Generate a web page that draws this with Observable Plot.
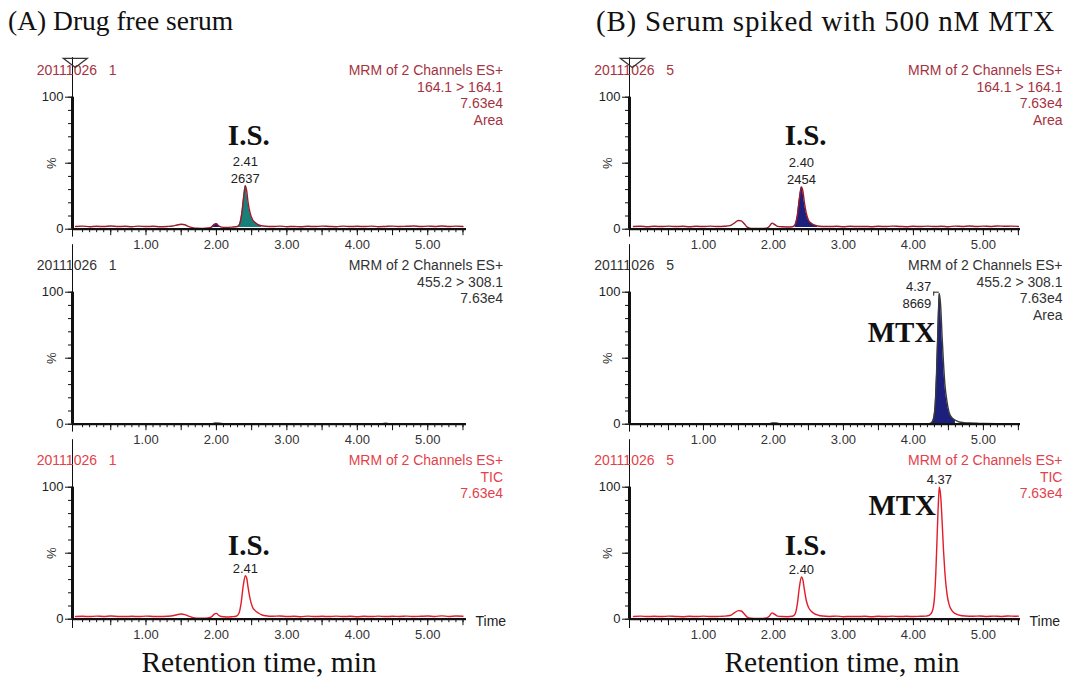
<!DOCTYPE html>
<html><head><meta charset="utf-8">
<script src="https://cdn.jsdelivr.net/npm/d3@7"></script>
<script src="https://cdn.jsdelivr.net/npm/@observablehq/plot@0.6"></script>
<style>
body{margin:0;background:#fff;}
#root{position:relative;width:1071px;height:677px;overflow:hidden;background:#fff;}
.title{position:absolute;font-family:"Liberation Serif","Times New Roman",serif;line-height:1;color:#111;white-space:nowrap;}
.panel{position:absolute;}
</style></head><body><div id="root"></div>
<script>
// ---------------- data ----------------
const columnTitles = ["(A) Drug free serum", "(B) Serum spiked with 500 nM MTX"];
const xAxisTitle = "Retention time, min";
const sampleIds = ["20111026   1", "20111026   5"];
const channelHeaders = [
  ["MRM of 2 Channels ES+\n164.1 > 164.1\n7.63e4\nArea", "MRM of 2 Channels ES+\n455.2 > 308.1\n7.63e4", "MRM of 2 Channels ES+\nTIC\n7.63e4"],
  ["MRM of 2 Channels ES+\n164.1 > 164.1\n7.63e4\nArea", "MRM of 2 Channels ES+\n455.2 > 308.1\n7.63e4\nArea", "MRM of 2 Channels ES+\nTIC\n7.63e4"]
];
const xTickLabels = [1, 2, 3, 4, 5];
const yTickLabels = [0, 100];
const yMajorTicks = [0, 50, 100];
const yMinorTicks = [0, 10, 20, 30, 40, 50, 60, 70, 80, 90, 100];
const xMidTicks = [0.5, 1, 1.5, 2, 2.5, 3, 3.5, 4, 4.5, 5, 5.5];
const xMinorTicks = d3.range(1, 56).map(i => i / 10);

// [time (min), intensity (%)]
const a1Trace = [[0.00,2.0],[0.10,2.3],[0.20,1.9],[0.30,2.2],[0.40,2.0],[0.50,2.4],[0.60,2.0],[0.70,2.2],[0.80,1.9],[0.90,2.3],[1.00,2.0],[1.10,2.2],[1.20,1.9],[1.30,2.1],[1.38,2.4],[1.44,3.2],[1.50,3.8],[1.55,3.4],[1.60,2.2],[1.66,1.2],[1.72,0.7],[1.80,0.6],[1.88,0.9],[1.93,1.6],[1.97,3.6],[2.00,4.2],[2.03,2.6],[2.07,1.6],[2.14,1.4],[2.22,1.6],[2.30,2.0],[2.33,4.0],[2.36,12],[2.39,26],[2.41,33],[2.43,29],[2.45,20],[2.48,12],[2.51,7.5],[2.55,5.0],[2.59,3.5],[2.64,2.6],[2.70,2.2],[2.80,2.0],[2.90,2.3],[3.00,1.9],[3.10,2.1],[3.20,1.8],[3.30,2.2],[3.40,2.0],[3.50,2.3],[3.60,2.1],[3.70,1.9],[3.80,2.3],[3.90,2.0],[4.00,2.2],[4.10,2.0],[4.20,2.3],[4.30,1.9],[4.40,2.1],[4.50,2.3],[4.60,2.0],[4.70,2.2],[4.80,2.4],[4.90,2.0],[5.00,2.3],[5.10,2.1],[5.20,2.4],[5.30,2.0],[5.40,2.3],[5.50,2.1]];
const a2Trace = [[0.00,0.3],[0.50,0.3],[1.00,0.3],[1.50,0.3],[1.94,0.3],[1.98,0.9],[2.04,0.8],[2.10,0.3],[2.50,0.3],[3.00,0.3],[3.50,0.3],[4.00,0.3],[4.35,0.3],[4.40,0.8],[4.45,0.3],[5.00,0.3],[5.50,0.3]];
const a3Trace = [[0.00,2.0],[0.10,2.2],[0.20,2.0],[0.30,2.3],[0.40,2.1],[0.50,2.4],[0.60,2.1],[0.70,2.0],[0.80,2.2],[0.90,2.0],[1.00,2.3],[1.10,2.1],[1.20,2.0],[1.30,2.2],[1.38,2.6],[1.44,3.4],[1.50,3.9],[1.55,3.5],[1.60,2.4],[1.66,1.3],[1.72,0.8],[1.80,0.7],[1.88,1.0],[1.93,1.8],[1.97,3.8],[2.00,4.4],[2.03,3.0],[2.07,2.0],[2.14,1.7],[2.22,1.9],[2.28,2.2],[2.32,4.5],[2.35,12],[2.38,25],[2.41,33],[2.43,31],[2.45,24],[2.48,15],[2.51,9.5],[2.55,6.5],[2.60,4.5],[2.65,3.2],[2.70,2.6],[2.80,2.2],[2.90,2.4],[3.00,2.0],[3.10,2.2],[3.20,1.9],[3.30,2.3],[3.40,2.0],[3.50,2.2],[3.60,2.0],[3.70,2.3],[3.80,2.0],[3.90,2.2],[4.00,1.9],[4.10,2.2],[4.20,2.0],[4.30,2.3],[4.40,2.0],[4.50,2.2],[4.60,2.1],[4.70,2.3],[4.80,2.0],[4.90,2.2],[5.00,2.4],[5.10,2.1],[5.20,2.5],[5.30,2.1],[5.40,2.4],[5.50,2.2]];
const b1Trace = [[0.00,2.0],[0.10,2.2],[0.20,1.9],[0.30,2.2],[0.40,2.0],[0.50,2.3],[0.60,2.0],[0.70,2.2],[0.80,1.9],[0.90,2.2],[1.00,2.0],[1.10,2.3],[1.20,2.0],[1.30,2.2],[1.38,2.7],[1.44,4.6],[1.50,6.6],[1.54,6.3],[1.58,4.3],[1.62,1.8],[1.68,0.6],[1.76,0.5],[1.84,0.6],[1.90,0.8],[1.94,2.0],[1.98,4.6],[2.02,3.4],[2.06,2.1],[2.12,1.8],[2.20,1.7],[2.27,1.9],[2.31,3.5],[2.34,10],[2.37,23],[2.40,32],[2.42,29],[2.44,21],[2.47,12],[2.50,7.0],[2.54,4.5],[2.58,3.2],[2.63,2.4],[2.70,2.1],[2.80,2.0],[2.90,2.2],[3.00,1.9],[3.10,2.2],[3.20,2.0],[3.30,2.1],[3.40,1.9],[3.50,2.2],[3.60,2.0],[3.70,2.3],[3.80,2.1],[3.90,1.9],[4.00,2.2],[4.10,2.0],[4.20,2.3],[4.30,2.0],[4.40,2.2],[4.50,1.9],[4.60,2.3],[4.70,2.1],[4.80,2.4],[4.90,2.0],[5.00,2.3],[5.10,2.1],[5.20,2.4],[5.30,2.2],[5.40,2.3],[5.50,2.1]];
const b2Trace = [[0.00,0.3],[0.50,0.3],[1.00,0.3],[1.50,0.3],[1.94,0.3],[1.98,1.0],[2.04,0.9],[2.10,0.3],[2.50,0.3],[3.00,0.3],[3.50,0.3],[4.00,0.3],[4.20,0.3],[4.25,0.8],[4.28,3.0],[4.31,14],[4.33,38],[4.35,72],[4.37,99],[4.39,89],[4.41,66],[4.43,46],[4.45,30],[4.48,17],[4.51,9.0],[4.55,5.0],[4.60,3.0],[4.65,1.8],[4.72,1.2],[4.80,0.9],[4.90,0.7],[5.00,0.5],[5.20,0.4],[5.50,0.3]];
const b3Trace = [[0.00,2.1],[0.10,2.3],[0.20,2.0],[0.30,2.2],[0.40,2.0],[0.50,2.3],[0.60,2.1],[0.70,1.9],[0.80,2.2],[0.90,2.0],[1.00,2.3],[1.10,2.0],[1.20,2.1],[1.30,2.3],[1.38,2.8],[1.44,4.8],[1.50,6.5],[1.54,6.2],[1.58,4.2],[1.62,1.8],[1.68,0.7],[1.76,0.5],[1.84,0.6],[1.90,0.9],[1.94,2.2],[1.98,4.8],[2.02,3.6],[2.06,2.3],[2.12,2.0],[2.20,1.9],[2.27,2.2],[2.31,4.0],[2.34,11],[2.37,24],[2.40,32],[2.42,30],[2.44,23],[2.47,14],[2.50,9.0],[2.54,6.0],[2.59,4.0],[2.64,3.0],[2.70,2.4],[2.80,2.1],[2.90,2.3],[3.00,1.9],[3.10,2.1],[3.20,2.0],[3.30,2.2],[3.40,1.9],[3.50,2.2],[3.60,2.0],[3.70,2.3],[3.80,2.0],[3.90,2.2],[4.00,2.0],[4.10,2.2],[4.18,2.3],[4.23,3.0],[4.27,6.0],[4.30,16],[4.32,35],[4.34,65],[4.36,92],[4.37,100],[4.39,93],[4.41,74],[4.43,52],[4.45,35],[4.48,19],[4.51,11],[4.55,6.5],[4.60,4.2],[4.66,3.0],[4.74,2.4],[4.85,2.2],[4.95,2.4],[5.05,2.1],[5.15,2.3],[5.25,2.1],[5.35,2.4],[5.45,2.2],[5.50,2.3]];

// integrated peak ranges [start, end, kind]
const a1Integrations = [[1.93, 2.07, "minor"], [2.30, 2.66, "is"]];
const b1Integrations = [[2.30, 2.64, "main"]];
const b2Integrations = [[4.24, 4.62, "main"], [4.62, 5.00, "tail"]];

// peak annotations: retention time, apex %, text
const a1Peaks = [{t: 2.41, h: 33, text: "2.41\n2637"}];
const a3Peaks = [{t: 2.41, h: 33, text: "2.41"}];
const b1Peaks = [{t: 2.40, h: 32, text: "2.40\n2454"}];
const b2Peaks = [{t: 4.37, h: 100, text: "4.37\n8669"}];
const b3Peaks = [{t: 2.40, h: 32, text: "2.40"}, {t: 4.37, h: 100, text: "4.37"}];

// compound names: time, %, name
const a1Names = [{t: 2.46, y: 71, name: "I.S."}];
const a3Names = [{t: 2.46, y: 56, name: "I.S."}];
const b1Names = [{t: 2.46, y: 71, name: "I.S."}];
const b2Names = [{t: 3.83, y: 69, name: "MTX"}];
const b3Names = [{t: 2.46, y: 56, name: "I.S."}, {t: 3.84, y: 86, name: "MTX"}];

// ---------------- drawing ----------------
const SANS = "'Liberation Sans', Arial, sans-serif";
const SERIF = "'Liberation Serif', 'Times New Roman', serif";
const rowStyle = [
  {text: "#a5333f", line: "#9c1b2b"},
  {text: "#333333", line: "#3a3a3a"},
  {text: "#e43f4b", line: "#e21c28"}
];
const fillColor = {is: "#17807b", minor: "#1d1f78", main: "#1c1f7c", tail: "#c8c8c8"};
const colLayout = [
  {left: 0, width: 540, ml: 72, mr: 74, domain: [-0.043, 5.55], headerX: -0.55, rightX: 6.07, pctX: -0.33},
  {left: 540, width: 531, ml: 89, mr: 51, domain: [-0.057, 5.53], headerX: -0.56, rightX: 6.13, pctX: -0.36}
];
const ROW_TOP = [50, 245, 440];
const PH = 210, MT = 46.7, MB = PH - 178.7;

function panel(col, row, trace, integrations, peaks, names, bracket) {
  const L = colLayout[col], S = rowStyle[row];
  const [d0, d1] = L.domain;
  const topExt = row === 0 ? 130 : 136;
  const botExt = row === 2 ? -7 : -6;
  const marks = [];
  for (const [a, b, kind] of integrations) {
    marks.push(Plot.areaY(trace.filter(d => d[0] >= a && d[0] <= b), {
      x: d => d[0], y1: row === 1 ? 0 : 1.2, y2: d => d[1], fill: fillColor[kind], curve: "monotone-x"
    }));
  }
  marks.push(
    Plot.line(trace, {x: d => d[0], y: d => d[1], stroke: S.line, strokeWidth: 1.4, curve: "monotone-x"}),
    Plot.ruleX([d0], {y1: botExt, y2: topExt, stroke: "#111", strokeWidth: 1}),
    Plot.ruleX([d0], {y1: 0, y2: 100, stroke: "#111", strokeWidth: 3}),
    Plot.ruleY([0], {x1: d0, x2: d1, stroke: "#111", strokeWidth: 2.2}),
    Plot.axisY(yMinorTicks, {tickSize: 4, tickFormat: () => "", label: null, stroke: "#111"}),
    Plot.axisY(yMajorTicks, {tickSize: 7, tickPadding: 2, label: null, stroke: "#111", fill: "#222",
      fontSize: 13, tickFormat: d => yTickLabels.includes(d) ? String(d) : ""}),
    Plot.axisX(xMinorTicks, {tickSize: 3.5, tickFormat: () => "", label: null, stroke: "#111"}),
    Plot.axisX(xMidTicks, {tickSize: 6.5, tickFormat: () => "", label: null, stroke: "#111"}),
    Plot.axisX(xTickLabels, {tickSize: 0, tickPadding: 11, label: null, fill: "#333", fontSize: 13,
      tickFormat: d => d.toFixed(2)}),
    Plot.text(["%"], {x: L.pctX, y: 50, rotate: -90, fontSize: 13, fill: "#333"}),
    Plot.text([sampleIds[col]], {x: L.headerX, y: 126, lineAnchor: "top", textAnchor: "start",
      fontSize: 14, fill: S.text, lineHeight: 1.2}),
    Plot.text([channelHeaders[col][row]], {x: L.rightX, y: 126, lineAnchor: "top", textAnchor: "end",
      fontSize: 14, fill: S.text, lineHeight: 1.2}),
    Plot.text(names, {x: "t", y: "y", text: "name", fontFamily: SERIF, fontWeight: "bold", fontSize: 29, fill: "#111"})
  );
  if (bracket) {
    marks.push(
      Plot.text(peaks, {x: "t", y: "h", text: "text", textAnchor: "end", lineAnchor: "bottom", dx: -8, dy: 16,
        fontSize: 13, fill: "#222", lineHeight: 1.35}),
      Plot.ruleY(peaks, {y: "h", x1: d => d.t - 0.08, x2: "t", stroke: "#222", strokeWidth: 1}),
      Plot.ruleX(peaks, {x: d => d.t - 0.08, y1: d => d.h - 3, y2: "h", stroke: "#222", strokeWidth: 1})
    );
  } else {
    marks.push(Plot.text(peaks, {x: "t", y: "h", text: "text", lineAnchor: "bottom", dy: -3,
      fontSize: 13, fill: "#222", lineHeight: 1.3}));
  }
  if (row === 0) {
    const flatTri = {draw(ctx, size) { const w = Math.sqrt(size); ctx.moveTo(-w, -0.38 * w); ctx.lineTo(w, -0.38 * w); ctx.lineTo(0, 0.38 * w); ctx.closePath(); }};
    marks.push(Plot.dot([0], {x: d0 + 0.04, y: 126, symbol: flatTri, r: 6.8, stroke: "#333", fill: "none", strokeWidth: 1.2}));
  }
  if (row === 2) {
    marks.push(Plot.text(["Time"], {x: d1, y: 0, dx: 9, dy: 2, textAnchor: "start", fontSize: 14, fill: "#222"}));
  }
  const svg = Plot.plot({
    width: L.width, height: PH,
    marginLeft: L.ml, marginRight: L.mr, marginTop: MT, marginBottom: MB,
    x: {domain: L.domain},
    y: {domain: [0, 100]},
    style: {background: "transparent", overflow: "visible", fontFamily: SANS, fontSize: "13px"},
    marks
  });
  svg.classList.add("panel");
  svg.style.left = L.left + "px";
  svg.style.top = ROW_TOP[row] + "px";
  svg.style.position = "absolute";
  return svg;
}

const root = document.getElementById("root");
const panels = [
  panel(0, 0, a1Trace, a1Integrations, a1Peaks, a1Names, false),
  panel(0, 1, a2Trace, [], [], [], false),
  panel(0, 2, a3Trace, [], a3Peaks, a3Names, false),
  panel(1, 0, b1Trace, b1Integrations, b1Peaks, b1Names, false),
  panel(1, 1, b2Trace, b2Integrations, b2Peaks, b2Names, true),
  panel(1, 2, b3Trace, [], b3Peaks, b3Names, false)
];
for (const p of panels) root.appendChild(p);

function addText(txt, left, top, size, center, spacing) {
  const d = document.createElement("div");
  d.className = "title";
  d.textContent = txt;
  d.style.fontSize = size + "px";
  d.style.top = top + "px";
  if (spacing) d.style.letterSpacing = spacing + "px";
  if (center) { d.style.left = (left - 200) + "px"; d.style.width = "400px"; d.style.textAlign = "center"; }
  else d.style.left = left + "px";
  root.appendChild(d);
}
addText(columnTitles[0], 8, 7, 27.5, false, 0);
addText(columnTitles[1], 596, 7, 29, false, 0.8);
addText(xAxisTitle, 259, 648, 29.5, true, 0);
addText(xAxisTitle, 842, 648, 29.5, true, 0);
</script></body></html>
